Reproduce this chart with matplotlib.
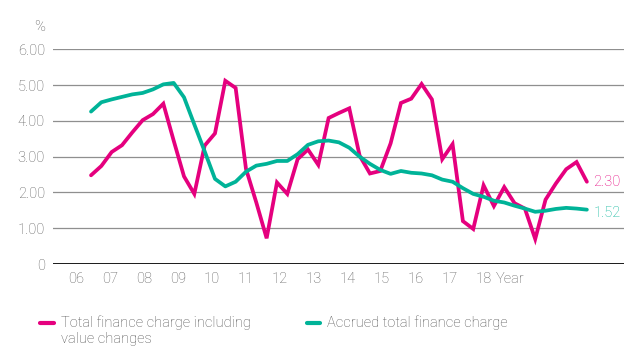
import numpy as np
import matplotlib.pyplot as plt
from matplotlib.lines import Line2D

plt.rcParams["font.family"] = ["Roboto", "DejaVu Sans"]
plt.rcParams["font.weight"] = "light"

PINK = "#e5007e"
TEAL = "#00b398"
TEXT = "#5e5e5e"
GRID = "#8f8f8f"
FS = 10.5

# Quarterly observations, 2006 onwards (49 quarters)
total_incl_value_changes = [
    2.48, 2.74, 3.13, 3.32, 3.68, 4.02, 4.19, 4.48, 3.45, 2.45,
    1.96, 3.31, 3.65, 5.12, 4.92, 2.66, 1.72, 0.72, 2.28, 1.96,
    2.93, 3.20, 2.77, 4.08, 4.22, 4.35, 3.03, 2.53, 2.60, 3.37,
    4.50, 4.62, 5.03, 4.60, 2.93, 3.35, 1.20, 0.98, 2.20, 1.62,
    2.15, 1.70, 1.55, 0.70, 1.80, 2.25, 2.65, 2.85, 2.30,
]
accrued_total = [
    4.26, 4.52, 4.60, 4.67, 4.74, 4.78, 4.88, 5.02, 5.06, 4.66,
    3.90, 3.15, 2.38, 2.17, 2.30, 2.58, 2.75, 2.80, 2.88, 2.88,
    3.07, 3.33, 3.43, 3.45, 3.40, 3.25, 3.00, 2.80, 2.63, 2.52,
    2.60, 2.55, 2.53, 2.48, 2.36, 2.30, 2.12, 1.96, 1.88, 1.77,
    1.72, 1.63, 1.55, 1.46, 1.49, 1.54, 1.57, 1.55, 1.52,
]
year_labels = ["06", "07", "08", "09", "10", "11", "12",
               "13", "14", "15", "16", "17", "18"]
y_ticks = [0, 1, 2, 3, 4, 5, 6]
y_labels = ["0", "1.00", "2.00", "3.00", "4.00", "5.00", "6.00"]

x = np.arange(len(total_incl_value_changes))
# year labels sit on their own even spacing along the axis
year_pos = np.linspace(-1.45, 38.0, len(year_labels))

fig = plt.figure(figsize=(6.31, 3.47), dpi=100)
ax = fig.add_axes([0.084, 0.239, 0.905, 0.619])

ax.plot(x, total_incl_value_changes, color=PINK, lw=2.7,
        solid_joinstyle="miter", solid_capstyle="round", zorder=3)
ax.plot(x, accrued_total, color=TEAL, lw=2.7,
        solid_joinstyle="round", solid_capstyle="round", zorder=3)

ax.set_xlim(-3.68, 51.6)
ax.set_ylim(0, 6)

for v in y_ticks[1:]:
    ax.axhline(v, color=GRID, lw=0.9, zorder=1)
ax.axhline(0, color="#1a1a1a", lw=1.4, zorder=2)

for s in ax.spines.values():
    s.set_visible(False)

ax.set_yticks(y_ticks, y_labels)
ax.set_xticks(year_pos, year_labels)
ax.tick_params(axis="both", length=0, labelsize=FS, colors=TEXT)
ax.tick_params(axis="x", pad=5.5)
ax.tick_params(axis="y", pad=5.8)

ax.annotate("Year", xy=(year_pos[-1], 0), xytext=(9.0, -5.5),
            textcoords="offset points", ha="left", va="top",
            fontsize=FS, color=TEXT, annotation_clip=False)
ax.annotate("%", xy=(0, 6), xycoords=("axes fraction", "data"),
            xytext=(-5.8, 16), textcoords="offset points",
            ha="right", va="center", fontsize=FS, color=TEXT,
            annotation_clip=False)

# end-of-series value labels
ax.annotate(f"{total_incl_value_changes[-1]:.2f}",
            xy=(x[-1], total_incl_value_changes[-1]), xytext=(4.5, 0),
            textcoords="offset points", ha="left", va="center",
            fontsize=FS, color=PINK, annotation_clip=False)
ax.annotate(f"{accrued_total[-1]:.2f}",
            xy=(x[-1], accrued_total[-1]), xytext=(4.5, -2.5),
            textcoords="offset points", ha="left", va="center",
            fontsize=FS, color=TEAL, annotation_clip=False)

# legend drawn below the axes
W, H = 631, 347
for x0, col, label in [
    (40.5, PINK, "Total finance charge including\nvalue changes"),
    (306.5, TEAL, "Accrued total finance charge"),
]:
    fig.add_artist(Line2D([x0 / W, (x0 + 13.5) / W], [1 - 323 / H] * 2,
                          color=col, lw=3, solid_capstyle="round"))
    fig.text((x0 + 20.5) / W, 1 - 315 / H, label, ha="left", va="top",
             fontsize=FS, color="#505050", linespacing=1.2)

fig.savefig("out.png", dpi=100)
